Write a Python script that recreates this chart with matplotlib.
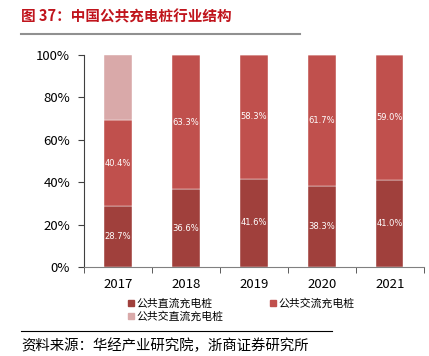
import numpy as np
import matplotlib
matplotlib.use("Agg")
import matplotlib.pyplot as plt
from matplotlib.lines import Line2D

plt.rcParams['font.family'] = ['Noto Sans CJK SC', 'DejaVu Sans']

years = ['2017', '2018', '2019', '2020', '2021']
dc = [28.7, 36.6, 41.6, 38.3, 41.0]
ac = [40.4, 63.3, 58.3, 61.7, 59.0]
acdc = [30.9, 0, 0, 0, 0]
names = ['公共直流充电桩', '公共交流充电桩', '公共交直流充电桩']
colors = ['#A0403C', '#C0504D', '#D9A9A9']

fig = plt.figure(figsize=(4.29, 3.56), dpi=100)
ax = fig.add_axes([0.196, 0.25, 0.792, 0.596])

x = np.arange(len(years))
w = 0.4
ax.bar(x, dc, w, color=colors[0], edgecolor='white', linewidth=0.3)
ax.bar(x, ac, w, bottom=dc, color=colors[1], edgecolor='white', linewidth=0.3)
ax.bar(x, acdc, w, bottom=np.add(dc, ac), color=colors[2], edgecolor='white', linewidth=0.3)

for i in range(len(years)):
    ax.text(x[i], dc[i] / 2, f'{dc[i]:.1f}%', ha='center', va='center',
            color='white', fontsize=6, family='DejaVu Sans')
    ax.text(x[i], dc[i] + ac[i] / 2, f'{ac[i]:.1f}%', ha='center', va='center',
            color='white', fontsize=6, family='DejaVu Sans')

ax.set_xlim(-0.5, 4.5)
ax.set_ylim(0, 100)
ax.set_yticks(np.arange(0, 101, 20))
ax.set_yticklabels([f'{v}%' for v in range(0, 101, 20)], fontsize=9.5)
ax.set_xticks(x)
ax.set_xticklabels(years, fontsize=9.5)
ax.set_xticks(np.arange(-0.5, 5, 1), minor=True)
ax.tick_params(axis='x', which='major', length=0, pad=8)
ax.tick_params(axis='x', which='minor', length=4, direction='out', color='#404040')
ax.tick_params(axis='y', length=4, color='#404040', pad=6)
for s in ['top', 'right']:
    ax.spines[s].set_visible(False)
ax.spines['left'].set_color('#404040')
ax.spines['bottom'].set_color('#808080')

# column-major fill, so reorder to get 直流 | 交流 on the first row
order = [0, 2, 1]
handles = [Line2D([], [], marker='s', linestyle='', color=colors[k], markersize=5) for k in order]
fig.legend(handles, [names[k] for k in order], loc='upper left', bbox_to_anchor=(0.283, 0.177),
           ncol=2, frameon=False, fontsize=7.8, handletextpad=0.1, columnspacing=4.2,
           labelspacing=0.15, borderpad=0, handlelength=0.8)

fig.text(0.05, 0.955, '图 37：中国公共充电桩行业结构', color='#C0141C', fontsize=10.5,
         fontweight='bold', va='center')
fig.add_artist(Line2D([0.05, 0.7], [0.905, 0.905], color='#909090', linewidth=1.5))
fig.add_artist(Line2D([0.05, 0.775], [0.07, 0.07], color='black', linewidth=0.8))
fig.text(0.05, 0.028, '资料来源：华经产业研究院，浙商证券研究所', fontsize=10.4, va='center')

fig.savefig('out.png', dpi=100)
